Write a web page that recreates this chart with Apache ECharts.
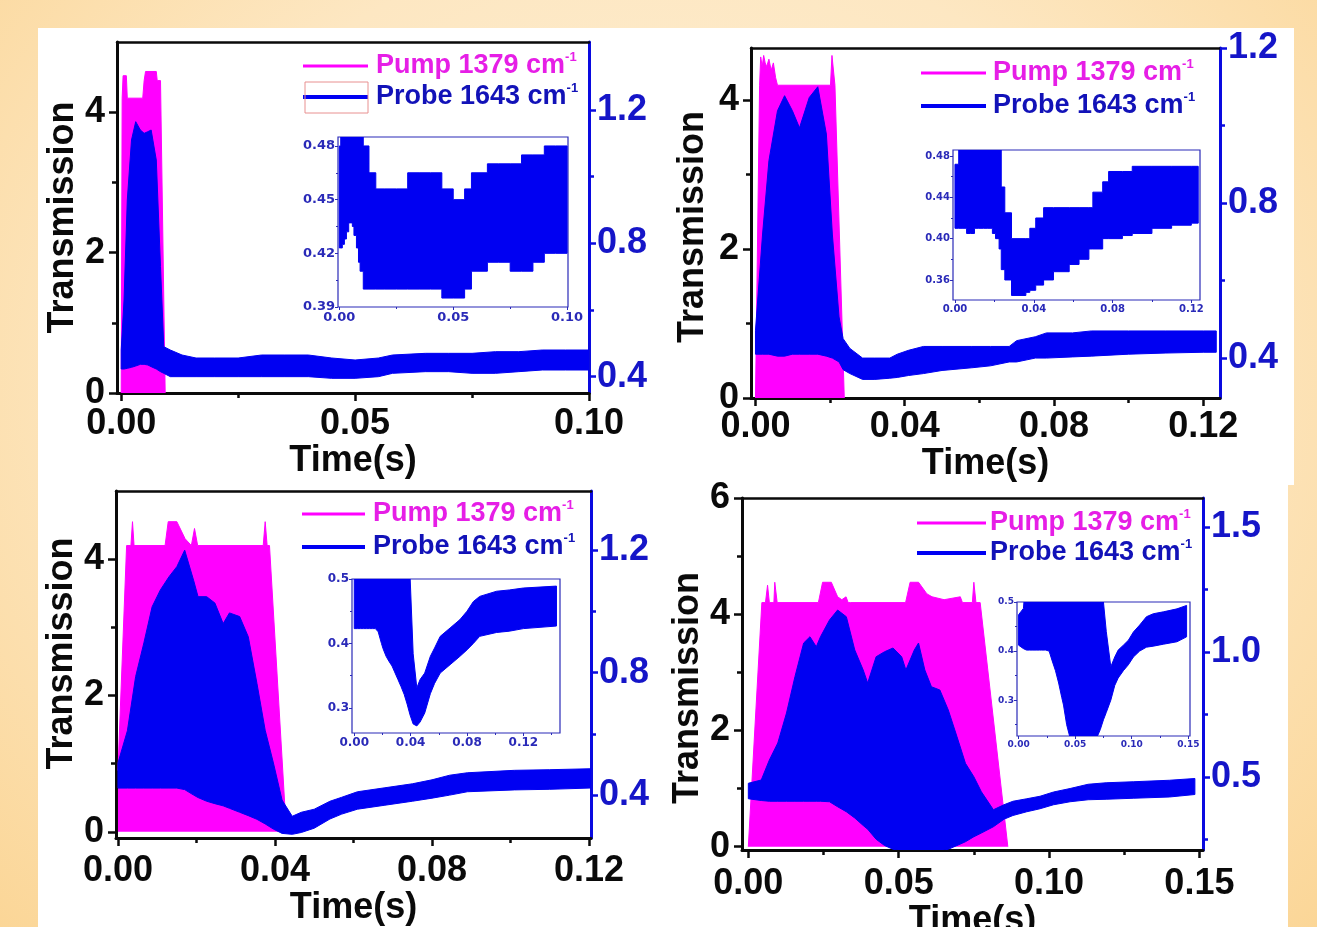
<!DOCTYPE html>
<html><head><meta charset="utf-8">
<script src="https://cdn.jsdelivr.net/npm/echarts@6/dist/echarts.min.js"></script>
<style>
html,body{margin:0;padding:0;width:1317px;height:927px;overflow:hidden;}
body{background:radial-gradient(ellipse at 50% 40%, #fef0d6 0%, #fde7c2 55%, #fbd697 100%);}
.w{position:absolute;background:#fff;}
#c{position:absolute;left:0;top:0;width:1317px;height:927px;}
</style>
</head><body>
<div class="w" style="left:38px;top:28px;width:1256px;height:457px"></div>
<div class="w" style="left:38px;top:485px;width:1250px;height:442px"></div>
<div id="c"></div>
<script>
// ---------------- DATA ----------------
// Panel A (top-left)
const timeA = [0, 0.0006, 0.0013, 0.0022, 0.0031, 0.0041, 0.0049, 0.0057, 0.0064, 0.0075, 0.0084, 0.0091, 0.0105, 0.013, 0.016, 0.02, 0.025, 0.03, 0.035, 0.04, 0.045, 0.05, 0.055, 0.058, 0.065, 0.07, 0.075, 0.08, 0.085, 0.09, 0.095, 0.1];
const probeHighA = [0.48, 0.63, 0.93, 1.11, 1.165, 1.14, 1.13, 1.135, 1.14, 1.05, 0.73, 0.49, 0.48, 0.465, 0.456, 0.456, 0.456, 0.465, 0.465, 0.465, 0.456, 0.45, 0.456, 0.465, 0.47, 0.47, 0.47, 0.475, 0.475, 0.48, 0.48, 0.48];
const probeLowA = [0.423, 0.423, 0.425, 0.428, 0.432, 0.437, 0.437, 0.435, 0.43, 0.423, 0.415, 0.41, 0.40, 0.40, 0.40, 0.40, 0.40, 0.40, 0.40, 0.40, 0.395, 0.395, 0.40, 0.41, 0.415, 0.415, 0.41, 0.41, 0.415, 0.42, 0.42, 0.42];
const pumpTimeA = [0, 0.0002, 0.0004, 0.0011, 0.0013, 0.0046, 0.0049, 0.0052, 0.0075, 0.0077, 0.0084, 0.0094];
const pumpA = [0, 4.2, 4.52, 4.52, 4.2, 4.2, 4.45, 4.58, 4.58, 4.45, 4.45, 0];

// Panel B (top-right)
const timeB = [0, 0.0019, 0.0036, 0.0059, 0.0078, 0.0099, 0.0118, 0.0144, 0.0167, 0.019, 0.0206, 0.0224, 0.0235, 0.0253, 0.0287, 0.032, 0.036, 0.038, 0.041, 0.045, 0.05, 0.058, 0.063, 0.068, 0.07, 0.075, 0.078, 0.085, 0.09, 0.1, 0.11, 0.12, 0.1235];
const probeHighB = [0.472, 0.72, 0.909, 1.038, 1.077, 1.038, 0.994, 1.072, 1.10, 0.978, 0.72, 0.506, 0.45, 0.425, 0.40, 0.40, 0.40, 0.41, 0.42, 0.43, 0.43, 0.43, 0.43, 0.43, 0.445, 0.455, 0.465, 0.465, 0.47, 0.47, 0.47, 0.47, 0.47];
const probeLowB = [0.41, 0.41, 0.41, 0.405, 0.405, 0.41, 0.41, 0.41, 0.41, 0.405, 0.40, 0.39, 0.37, 0.36, 0.345, 0.345, 0.348, 0.35, 0.355, 0.36, 0.368, 0.375, 0.38, 0.39, 0.39, 0.40, 0.40, 0.403, 0.405, 0.41, 0.413, 0.415, 0.415];
const pumpTimeB = [0, 0.0011, 0.0014, 0.0018, 0.0022, 0.0026, 0.003, 0.0036, 0.0042, 0.0048, 0.0054, 0.0059, 0.0201, 0.0205, 0.0209, 0.0213, 0.0216, 0.0238];
const pumpB = [0, 4.2, 4.58, 4.45, 4.6, 4.5, 4.45, 4.55, 4.4, 4.5, 4.3, 4.2, 4.2, 4.6, 4.6, 4.2, 4.2, 0];

// Panel C (bottom-left)
const timeC = [0, 0.0024, 0.0045, 0.0066, 0.0087, 0.0108, 0.013, 0.015, 0.017, 0.0193, 0.0204, 0.0226, 0.0247, 0.0268, 0.0284, 0.031, 0.0332, 0.0354, 0.0375, 0.0396, 0.0418, 0.0444, 0.0467, 0.050, 0.054, 0.057, 0.061, 0.068, 0.075, 0.080, 0.0845, 0.089, 0.101, 0.11, 0.12, 0.1435];
const probeHighC = [0.505, 0.61, 0.787, 0.897, 1.015, 1.07, 1.113, 1.146, 1.20, 1.10, 1.048, 1.048, 1.027, 0.96, 0.995, 0.983, 0.917, 0.765, 0.612, 0.505, 0.384, 0.331, 0.344, 0.354, 0.38, 0.393, 0.411, 0.424, 0.437, 0.45, 0.465, 0.473, 0.481, 0.483, 0.486, 0.489];
const probeLowC = [0.423, 0.423, 0.423, 0.423, 0.423, 0.423, 0.423, 0.423, 0.418, 0.40, 0.392, 0.38, 0.372, 0.365, 0.357, 0.344, 0.333, 0.321, 0.306, 0.289, 0.275, 0.272, 0.278, 0.292, 0.322, 0.338, 0.354, 0.367, 0.38, 0.39, 0.40, 0.411, 0.417, 0.419, 0.423, 0.427];
const pumpTimeC = [0, 0.0022, 0.0033, 0.0037, 0.0041, 0.012, 0.0128, 0.015, 0.0171, 0.0187, 0.0195, 0.0203, 0.037, 0.0375, 0.038, 0.0386, 0.0429];
const pumpC = [0.9, 4.2, 4.2, 4.55, 4.2, 4.2, 4.55, 4.55, 4.3, 4.2, 4.45, 4.2, 4.2, 4.55, 4.2, 4.2, 0];

// Panel D (bottom-right)
const timeD = [0, 0.0043, 0.007, 0.0098, 0.0127, 0.0155, 0.0184, 0.0205, 0.0226, 0.024, 0.027, 0.0297, 0.0326, 0.0354, 0.0382, 0.0397, 0.0425, 0.0453, 0.0481, 0.051, 0.0524, 0.0552, 0.0566, 0.0587, 0.0609, 0.0637, 0.0665, 0.0694, 0.0722, 0.075, 0.0775, 0.0815, 0.085, 0.088, 0.0926, 0.097, 0.1015, 0.107, 0.113, 0.119, 0.128, 0.14, 0.1485];
const probeHighD = [0.474, 0.487, 0.567, 0.635, 0.755, 0.90, 1.035, 1.06, 1.02, 1.06, 1.127, 1.167, 1.14, 1.007, 0.927, 0.875, 0.98, 1.0, 1.015, 0.98, 0.927, 1.007, 1.035, 0.927, 0.86, 0.847, 0.767, 0.66, 0.554, 0.50, 0.44, 0.368, 0.388, 0.402, 0.412, 0.422, 0.439, 0.453, 0.47, 0.476, 0.48, 0.486, 0.493];
const probeLowD = [0.412, 0.405, 0.402, 0.402, 0.402, 0.402, 0.402, 0.402, 0.402, 0.402, 0.40, 0.38, 0.36, 0.335, 0.305, 0.29, 0.25, 0.225, 0.21, 0.205, 0.205, 0.205, 0.205, 0.205, 0.205, 0.205, 0.21, 0.225, 0.24, 0.26, 0.275, 0.30, 0.33, 0.345, 0.36, 0.372, 0.388, 0.40, 0.408, 0.41, 0.414, 0.419, 0.429];
const pumpTimeD = [0, 0.0045, 0.0057, 0.0064, 0.0070, 0.0085, 0.0088, 0.0092, 0.0096, 0.0233, 0.0247, 0.0276, 0.0297, 0.0311, 0.0325, 0.0332, 0.034, 0.0523, 0.0538, 0.0566, 0.0594, 0.0611, 0.0651, 0.0705, 0.0712, 0.0745, 0.075, 0.0757, 0.0771, 0.0863];
const pumpD = [0, 4.2, 4.2, 4.5, 4.2, 4.2, 4.55, 4.55, 4.2, 4.2, 4.55, 4.55, 4.3, 4.25, 4.3, 4.2, 4.2, 4.2, 4.55, 4.55, 4.35, 4.3, 4.25, 4.3, 4.2, 4.2, 4.55, 4.2, 4.2, 0];

// Tick values
const xTicksA = [0, 0.05, 0.1], xMinorA = [0.025, 0.075];
const xTicksB = [0, 0.04, 0.08, 0.12], xMinorB = [0.02, 0.06, 0.1];
const xTicksC = [0, 0.04, 0.08, 0.12], xMinorC = [0.02, 0.06, 0.1];
const xTicksD = [0, 0.05, 0.1, 0.15], xMinorD = [0.025, 0.075, 0.125];
const leftTicksABC = [0, 2, 4], leftMinorABC = [1, 3];
const leftTicksD = [0, 2, 4, 6], leftMinorD = [1, 3, 5];
const rightTicksABC = [0.4, 0.8, 1.2], rightMinorABC = [0.6, 1.0];
const rightTicksD = [0.5, 1.0, 1.5], rightMinorD = [0.25, 0.75, 1.25];
const insetXTicksA = [0, 0.05, 0.1], insetXMinorA = [0.025, 0.075];
const insetYTicksA = [0.39, 0.42, 0.45, 0.48], insetYMinorA = [0.405, 0.435, 0.465];
const insetXTicksB = [0, 0.04, 0.08, 0.12], insetXMinorB = [0.02, 0.06, 0.1];
const insetYTicksB = [0.36, 0.40, 0.44, 0.48], insetYMinorB = [0.38, 0.42, 0.46];
const insetXTicksC = [0, 0.04, 0.08, 0.12], insetXMinorC = [0.02, 0.06, 0.1, 0.14];
const insetYTicksC = [0.3, 0.4, 0.5], insetYMinorC = [0.35, 0.45];
const insetXTicksD = [0, 0.05, 0.1, 0.15], insetXMinorD = [0.025, 0.075, 0.125];
const insetYTicksD = [0.3, 0.4, 0.5], insetYMinorD = [0.25, 0.35, 0.45];

const pumpLabel = 'Pump 1379 cm';
const probeLabel = 'Probe 1643 cm';
const xName = 'Time(s)';
const yName = 'Transmission';

// ---------------- STYLE / LAYOUT ----------------
const FONT = '"Liberation Sans", Arial, sans-serif';
const IFONT = '"DejaVu Sans", Verdana, sans-serif';
const MAG = '#ff00ff', MAG_TXT = '#e61ee6';
const BLUE = '#0000f2', BLUE_AX = '#0a0ae0', BLUE_TXT = '#1515c8', PROBE_TXT = '#1212b8';
const INSET_C = '#2a2ab8', BLACK = '#0a0a0a';

const panels = [
  {t: timeA, lo: probeLowA, hi: probeHighA, pt: pumpTimeA, pv: pumpA,
   xT: xTicksA, xM: xMinorA, lT: leftTicksABC, lM: leftMinorABC, rT: rightTicksABC, rM: rightMinorABC,
   ixT: insetXTicksA, ixM: insetXMinorA, iyT: insetYTicksA, iyM: insetYMinorA, iyDec: 2, iStep: true,
   L: {grid: [117, 42, 472, 351], x: [-0.0009, 0.1], yL: [0, 5], yR: [0.351, 1.404],
       inset: [338, 137, 230, 170], ix: [-0.0006, 0.1004], iy: [0.39, 0.485], ifs: 13,
       xMargin: 13, xGap: 43, yGap: 27, yPad: [0, 0, 0, 0],
       leg: {x1: 303, x2: 368, tx: 376, y1: 66, y2: 97}}},
  {t: timeB, lo: probeLowB, hi: probeHighB, pt: pumpTimeB, pv: pumpB,
   xT: xTicksB, xM: xMinorB, lT: leftTicksABC, lM: leftMinorABC, rT: rightTicksABC, rM: rightMinorABC,
   ixT: insetXTicksB, ixM: insetXMinorB, iyT: insetYTicksB, iyM: insetYMinorB, iyDec: 2, iStep: true,
   L: {grid: [751, 48, 469, 350], x: [-0.0012, 0.1245], yL: [0, 4.7], yR: [0.297, 1.2],
       inset: [953, 150, 247, 150], ix: [-0.001, 0.1244], iy: [0.3406, 0.4858], ifs: 10,
       xMargin: 11, xGap: 40, yGap: 40, yPad: [0, 8, 0, 0],
       leg: {x1: 921, x2: 986, tx: 993, y1: 73, y2: 106}}},
  {t: timeC, lo: probeLowC, hi: probeHighC, pt: pumpTimeC, pv: pumpC,
   xT: xTicksC, xM: xMinorC, lT: leftTicksABC, lM: leftMinorABC, rT: rightTicksABC, rM: rightMinorABC,
   ixT: insetXTicksC, ixM: insetXMinorC, iyT: insetYTicksC, iyM: insetYMinorC, iyDec: 1, iStep: false,
   L: {grid: [116, 491, 475, 347], x: [-0.0005, 0.1205], yL: [-0.09, 5.0], yR: [0.26, 1.393],
       inset: [352, 579, 208, 154], ix: [-0.0016, 0.146], iy: [0.261, 0.5], ifs: 12,
       xMargin: 15, xGap: 49, yGap: 28, yPad: [0, 0, 0, 22],
       leg: {x1: 302, x2: 365, tx: 373, y1: 514, y2: 547}}},
  {t: timeD, lo: probeLowD, hi: probeHighD, pt: pumpTimeD, pv: pumpD,
   xT: xTicksD, xM: xMinorD, lT: leftTicksD, lM: leftMinorD, rT: rightTicksD, rM: rightMinorD,
   ixT: insetXTicksD, ixM: insetXMinorD, iyT: insetYTicksD, iyM: insetYMinorD, iyDec: 1, iStep: false,
   L: {grid: [742, 498, 461, 352], x: [-0.0021, 0.1512], yL: [-0.057, 6.0], yR: [0.207, 1.615],
       inset: [1017, 602, 173, 134], ix: [-0.0014, 0.1515], iy: [0.227, 0.5], ifs: 9,
       xMargin: 16, xGap: 44, yGap: 27, yPad: [0, 28, 0, 0],
       leg: {x1: 917, x2: 986, tx: 990, y1: 523, y2: 553}}}
];

const grids = [], xAxes = [], yAxes = [], series = [], graphics = [];
const add = (arr, o) => { arr.push(o); return arr.length - 1; };
const big = (color) => ({color: color, fontSize: 36, fontWeight: 'bold', fontFamily: FONT});

function makeBand(step) {
  return function (params, api) {
    if (params.dataIndexInside !== 0) return null;
    const n = params.dataInsideLength;
    const top = [], bot = [];
    for (let j = 0; j < n; j++) {
      const t = api.value(0, j);
      if (step && j > 0) {
        top.push(api.coord([t, api.value(2, j - 1)]));
        bot.push(api.coord([t, api.value(1, j - 1)]));
      }
      top.push(api.coord([t, api.value(2, j)]));
      bot.push(api.coord([t, api.value(1, j)]));
    }
    return {type: 'polygon', shape: {points: top.concat(bot.reverse())},
            style: {fill: BLUE, stroke: BLUE, lineWidth: 1}};
  };
}

function rect(r, extra) {
  return Object.assign({left: r[0], top: r[1], width: r[2], height: r[3], containLabel: false, outerBoundsMode: 'none'}, extra || {});
}
const noLine = {show: false};

panels.forEach(P => {
  const L = P.L;
  const g0 = add(grids, rect(L.grid));
  const g1 = add(grids, rect(L.grid));
  const gi = add(grids, rect(L.inset, {show: true, backgroundColor: '#fff', borderColor: INSET_C, borderWidth: 1.2}));
  const gi1 = add(grids, rect(L.inset));

  // main axes
  const xMain = add(xAxes, {type: 'value', gridIndex: g0, position: 'bottom', min: L.x[0], max: L.x[1],
    axisLine: {show: true, onZero: false, lineStyle: {color: BLACK, width: 3}},
    axisTick: {show: true, customValues: P.xT, length: 8, lineStyle: {color: BLACK, width: 2.5}},
    axisLabel: Object.assign({show: true, customValues: P.xT, formatter: v => v.toFixed(2), margin: L.xMargin, hideOverlap: false}, big(BLACK)),
    splitLine: {show: false},
    name: xName, nameLocation: 'middle', nameGap: L.xGap, nameTextStyle: big(BLACK)});
  add(xAxes, {type: 'value', gridIndex: g0, position: 'top', min: L.x[0], max: L.x[1],
    axisLine: {show: true, onZero: false, lineStyle: {color: BLACK, width: 2.5}},
    axisTick: noLine, axisLabel: noLine, splitLine: noLine});
  const yLeft = add(yAxes, {type: 'value', gridIndex: g0, position: 'left', min: L.yL[0], max: L.yL[1],
    axisLine: {show: true, onZero: false, lineStyle: {color: BLACK, width: 3}},
    axisTick: {show: true, customValues: P.lT, length: 8, lineStyle: {color: BLACK, width: 2.5}},
    axisLabel: Object.assign({show: true, customValues: P.lT, formatter: v => String(Math.round(v)), margin: 12}, big(BLACK)),
    splitLine: {show: false},
    name: yName, nameLocation: 'middle', nameRotate: 90, nameGap: L.yGap,
    nameTextStyle: Object.assign({padding: L.yPad}, big(BLACK))});
  const yRight = add(yAxes, {type: 'value', gridIndex: g0, position: 'right', min: L.yR[0], max: L.yR[1],
    axisLine: {show: true, onZero: false, lineStyle: {color: BLUE_AX, width: 3}},
    axisTick: {show: true, customValues: P.rT, length: 7, lineStyle: {color: BLUE_AX, width: 2.5}},
    axisLabel: Object.assign({show: true, customValues: P.rT, formatter: v => v.toFixed(1), margin: 8}, big(BLUE_TXT)),
    splitLine: {show: false}});

  // minor ticks (second grid, same rect)
  add(xAxes, {type: 'value', gridIndex: g1, position: 'bottom', min: L.x[0], max: L.x[1],
    axisLine: {show: false, onZero: false},
    axisTick: {show: true, customValues: P.xM, length: 5, lineStyle: {color: BLACK, width: 2.5}},
    axisLabel: noLine, splitLine: noLine});
  add(yAxes, {type: 'value', gridIndex: g1, position: 'left', min: L.yL[0], max: L.yL[1],
    axisLine: {show: false, onZero: false},
    axisTick: {show: true, customValues: P.lM, length: 5, lineStyle: {color: BLACK, width: 2.5}},
    axisLabel: noLine, splitLine: noLine});
  add(yAxes, {type: 'value', gridIndex: g1, position: 'right', min: L.yR[0], max: L.yR[1],
    axisLine: {show: false, onZero: false},
    axisTick: {show: true, customValues: P.rM, length: 5, lineStyle: {color: BLUE_AX, width: 2.5}},
    axisLabel: noLine, splitLine: noLine});

  // inset axes
  const ilab = {color: INSET_C, fontSize: L.ifs, fontWeight: 'bold', fontFamily: IFONT};
  const xIn = add(xAxes, {type: 'value', gridIndex: gi, position: 'bottom', min: L.ix[0], max: L.ix[1],
    axisLine: {show: false, onZero: false},
    axisTick: {show: true, customValues: P.ixT, length: 3, lineStyle: {color: INSET_C, width: 1}},
    axisLabel: Object.assign({show: true, customValues: P.ixT, formatter: v => v.toFixed(2), margin: 4, hideOverlap: false}, ilab),
    splitLine: noLine});
  const yIn = add(yAxes, {type: 'value', gridIndex: gi, position: 'left', min: L.iy[0], max: L.iy[1],
    axisLine: {show: false, onZero: false},
    axisTick: {show: true, customValues: P.iyT, length: 3, lineStyle: {color: INSET_C, width: 1}},
    axisLabel: Object.assign({show: true, customValues: P.iyT, formatter: v => v.toFixed(P.iyDec), margin: 3}, ilab),
    splitLine: noLine});
  add(xAxes, {type: 'value', gridIndex: gi1, position: 'bottom', min: L.ix[0], max: L.ix[1],
    axisLine: {show: false, onZero: false},
    axisTick: {show: true, customValues: P.ixM, length: 2, lineStyle: {color: INSET_C, width: 1}},
    axisLabel: noLine, splitLine: noLine});
  add(yAxes, {type: 'value', gridIndex: gi1, position: 'left', min: L.iy[0], max: L.iy[1],
    axisLine: {show: false, onZero: false},
    axisTick: {show: true, customValues: P.iyM, length: 2, lineStyle: {color: INSET_C, width: 1}},
    axisLabel: noLine, splitLine: noLine});

  // series
  const band = P.t.map((t, i) => [t, P.lo[i], P.hi[i]]);
  series.push({type: 'line', xAxisIndex: xMain, yAxisIndex: yLeft, data: P.pt.map((t, i) => [t, P.pv[i]]),
    symbol: 'none', lineStyle: {color: MAG, width: 1}, areaStyle: {color: MAG, opacity: 1}, z: 2, silent: true, clip: true});
  series.push({type: 'custom', xAxisIndex: xMain, yAxisIndex: yRight, data: band, renderItem: makeBand(false),
    encode: {x: 0, y: [1, 2]}, clip: true, z: 3, silent: true});
  series.push({type: 'custom', xAxisIndex: xIn, yAxisIndex: yIn, data: band, renderItem: makeBand(P.iStep),
    encode: {x: 0, y: [1, 2]}, clip: true, z: 3, silent: true});

  // legend (drawn as graphics)
  const lg = L.leg;
  const rich = (c) => ({
    a: {fill: c, color: c, fontSize: 27, fontWeight: 'bold', fontFamily: FONT, lineHeight: 30},
    s: {fill: c, color: c, fontSize: 13, fontWeight: 'bold', fontFamily: FONT, verticalAlign: 'top', lineHeight: 14}
  });
  graphics.push({type: 'line', z: 100, shape: {x1: lg.x1, y1: lg.y1, x2: lg.x2, y2: lg.y1}, style: {stroke: MAG, lineWidth: 3}});
  graphics.push({type: 'line', z: 100, shape: {x1: lg.x1, y1: lg.y2, x2: lg.x2, y2: lg.y2}, style: {stroke: BLUE, lineWidth: 4}});
  graphics.push({type: 'text', z: 100, x: lg.tx, y: lg.y1, style: {text: '{a|' + pumpLabel + '}{s|-1}', rich: rich(MAG_TXT), align: 'left', verticalAlign: 'middle'}});
  graphics.push({type: 'text', z: 100, x: lg.tx, y: lg.y2, style: {text: '{a|' + probeLabel + '}{s|-1}', rich: rich(PROBE_TXT), align: 'left', verticalAlign: 'middle'}});
});
// stray red frame around the probe legend sample in the top-left panel
graphics.push({type: 'rect', z: 101, shape: {x: 305, y: 82, width: 63, height: 31}, style: {fill: 'none', stroke: '#e89090', lineWidth: 1}});

const chart = echarts.init(document.getElementById('c'), null, {renderer: 'canvas'});
chart.setOption({
  animation: false,
  backgroundColor: 'transparent',
  grid: grids, xAxis: xAxes, yAxis: yAxes, series: series, graphic: graphics
});
</script>
</body></html>
